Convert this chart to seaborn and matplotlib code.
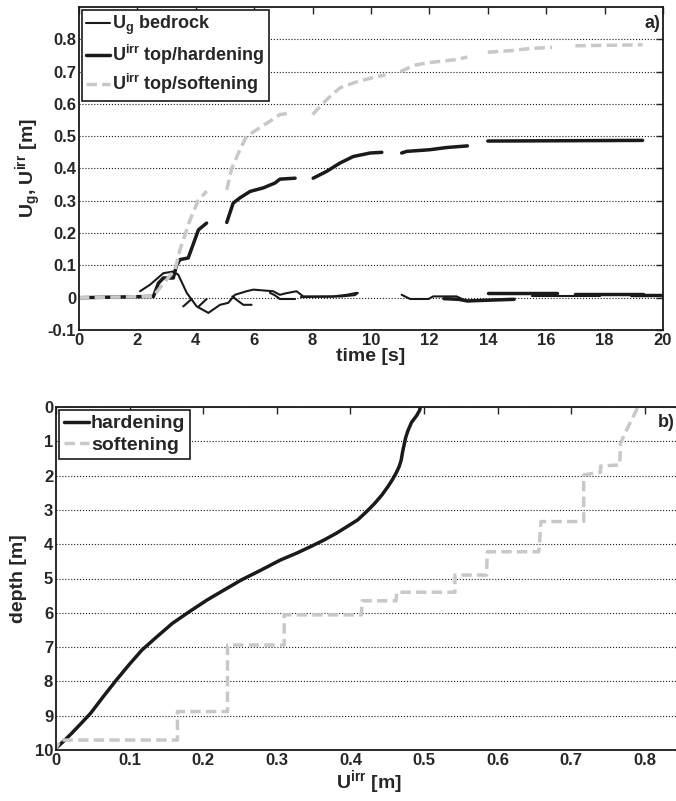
import numpy as np
import pandas as pd
import matplotlib
matplotlib.use("Agg")
import matplotlib.pyplot as plt
import seaborn as sns
from matplotlib.lines import Line2D

# ---- panel a) time histories (NaN = gap in the recorded curve) ----
bed_t = [2.09, 2.43, 2.89, 3.23, 3.40, 3.69, 4.03, 4.43, 4.83, 5.11, 5.34, 5.74, 5.97,
         6.65, 6.88, 7.10, 7.45, 7.68, 8.71, 9.17, 9.51, np.nan,
         11.05, 11.34, 11.97, 12.13, 12.93, 13.28, 14.87, np.nan, 15.5, 17.84]
bed_u = [0.020, 0.040, 0.076, 0.081, 0.071, 0.015, -0.027, -0.047, -0.022, -0.016, 0.009, 0.020, 0.025,
         0.020, 0.009, 0.014, 0.020, 0.004, 0.004, 0.009, 0.015, np.nan,
         0.009, -0.004, -0.004, 0.004, 0.004, -0.011, -0.004, np.nan, 0.004, 0.004]

extra_t = [3.57, 3.86, np.nan, 4.10, 4.37, np.nan, 5.25, 5.46, 5.63, 5.91, np.nan,
           6.54, 6.70, 6.88, 7.40, np.nan, 7.60, 8.50, 9.00, 9.45, 9.55]
extra_u = [-0.027, -0.004, np.nan, -0.027, -0.004, np.nan, 0.004, -0.011, -0.022, -0.022, np.nan,
           0.015, 0.008, -0.004, -0.004, np.nan, 0.002, 0.003, 0.004, 0.008, 0.015]

near0_t = [12.5, 13.0, 13.3, 14.9, np.nan, 14.02, 16.36, np.nan, 17.0, 19.33, np.nan, 18.9, 20.0]
near0_u = [-0.003, -0.005, -0.010, -0.005, np.nan, 0.015, 0.015, np.nan, 0.013, 0.013, np.nan, 0.009, 0.009]

hard_t = [0, 2.55, 2.72, 2.89, 3.23, 3.34, 3.46, 3.74, 3.97, 4.09, 4.37, np.nan,
          5.06, 5.28, 5.51, 5.86, 6.31, 6.71, 6.88, 7.40, np.nan,
          8.02, 8.48, 8.94, 9.39, 9.97, 10.37, np.nan,
          11.05, 11.22, 12.0, 12.6, 13.3, np.nan, 14.0, 19.3]
hard_u = [0, 0.004, 0.045, 0.061, 0.061, 0.100, 0.118, 0.123, 0.180, 0.210, 0.231, np.nan,
          0.233, 0.293, 0.309, 0.329, 0.340, 0.355, 0.367, 0.370, np.nan,
          0.370, 0.391, 0.417, 0.437, 0.448, 0.450, np.nan,
          0.448, 0.453, 0.458, 0.465, 0.470, np.nan, 0.485, 0.487]

soft_t = [0, 2.54, 2.95, 3.29, 3.46, 3.80, 4.08, 4.37, np.nan,
          5.06, 5.23, 5.51, 5.74, 6.00, 6.43, 6.88, 7.28, np.nan,
          8.0, 8.48, 8.94, 9.5, 10.0, 10.5, np.nan,
          11.0, 11.5, 12.0, 12.9, 13.3, np.nan, 14.0, 14.8, 15.5, 16.2, np.nan, 17.0, 19.3]
soft_u = [0, 0.004, 0.050, 0.087, 0.149, 0.240, 0.300, 0.330, np.nan,
          0.334, 0.400, 0.458, 0.500, 0.515, 0.540, 0.567, 0.572, np.nan,
          0.567, 0.613, 0.650, 0.668, 0.680, 0.690, np.nan,
          0.700, 0.720, 0.728, 0.737, 0.745, np.nan, 0.760, 0.765, 0.772, 0.775, np.nan, 0.780, 0.783]

# ---- panel b) irreversible displacement profiles ----
prof_hard_u = [0.495, 0.494, 0.490, 0.483, 0.478, 0.475, 0.473, 0.471, 0.469, 0.466, 0.462,
               0.457, 0.451, 0.443, 0.433, 0.422, 0.410, 0.396, 0.381, 0.364, 0.346,
               0.326, 0.305, 0.279, 0.252, 0.228, 0.205, 0.181, 0.158, 0.137, 0.117,
               0.099, 0.082, 0.064, 0.047, 0.033, 0.021, 0.010, 0.0]
prof_hard_d = [0.00, 0.10, 0.25, 0.45, 0.70, 0.90, 1.10, 1.30, 1.55, 1.75, 1.93,
               2.12, 2.32, 2.56, 2.81, 3.05, 3.29, 3.48, 3.68, 3.88, 4.07,
               4.27, 4.46, 4.75, 5.04, 5.34, 5.63, 5.97, 6.31, 6.70, 7.08,
               7.52, 7.96, 8.45, 8.93, 9.25, 9.52, 9.75, 9.95]
prof_soft_u = [0.790, 0.773, 0.767, 0.766, 0.740, 0.740, 0.717, 0.717, 0.659, 0.656, 0.586, 0.585,
               0.542, 0.542, 0.463, 0.462, 0.416, 0.415, 0.310, 0.310, 0.233, 0.233,
               0.165, 0.165, 0.006, 0.0]
prof_soft_d = [0.03, 0.77, 1.06, 1.69, 1.72, 1.90, 1.98, 3.34, 3.34, 4.22, 4.22, 4.90,
               4.90, 5.40, 5.40, 5.65, 5.65, 6.06, 6.06, 6.94, 6.94, 8.88,
               8.88, 9.71, 9.71, 9.95]


def segments(x, y):
    x = np.asarray(x, float)
    y = np.asarray(y, float)
    gap = np.isnan(x) | np.isnan(y)
    df = pd.DataFrame({'x': x, 'y': y, 'seg': np.cumsum(gap)})
    return df[~gap]


sns.set_theme(style="white")
plt.rcParams['font.family'] = ['Liberation Sans', 'DejaVu Sans']
plt.rcParams['font.weight'] = 'bold'
plt.rcParams['axes.labelweight'] = 'bold'
plt.rcParams['mathtext.fontset'] = 'custom'
plt.rcParams['mathtext.rm'] = 'Liberation Sans:bold'
plt.rcParams['mathtext.it'] = 'Liberation Sans:bold'
plt.rcParams['mathtext.bf'] = 'Liberation Sans:bold'

GRAY = '#c8c8c8'
DASH = (0, (3, 1.5))

fig = plt.figure(figsize=(6.76, 8.01), dpi=100)
ax1 = fig.add_axes([79 / 676, 1 - 330 / 801, 584 / 676, 323 / 801])
ax2 = fig.add_axes([56 / 676, 1 - 750 / 801, 625.6 / 676, 343 / 801])

# panel a
def seg_plot(ax, x, y, **kw):
    sns.lineplot(data=segments(x, y), x='x', y='y', units='seg', estimator=None,
                 sort=False, legend=False, ax=ax, **kw)

seg_plot(ax1, bed_t, bed_u, color='k', lw=1.5)
seg_plot(ax1, extra_t, extra_u, color='k', lw=1.5)
seg_plot(ax1, near0_t, near0_u, color='k', lw=2.5)
seg_plot(ax1, hard_t, hard_u, color='k', lw=2.5)
seg_plot(ax1, soft_t, soft_u, color=GRAY, lw=2.5, linestyle=DASH)

ax1.set_xlim(0, 20)
ax1.set_ylim(-0.1, 0.9)
ax1.set_xticks(np.arange(0, 21, 2))
ax1.set_yticks(np.round(np.arange(-0.1, 0.81, 0.1), 1))
ax1.set_yticklabels(['%g' % v for v in np.round(np.arange(-0.1, 0.81, 0.1), 1)])
ax1.set_xlabel('time [s]', fontsize=14, labelpad=0)
ax1.set_ylabel(r'U$_\mathrm{g}$, U$^\mathrm{irr}$ [m]', fontsize=14, labelpad=3)
ax1.text(0.995, 0.975, 'a)', transform=ax1.transAxes, ha='right', va='top', fontsize=13)

h1 = [Line2D([], [], color='k', lw=1.5),
      Line2D([], [], color='k', lw=2.5),
      Line2D([], [], color=GRAY, lw=2.5, linestyle=DASH)]
leg1 = ax1.legend(h1, [r'U$_\mathrm{g}$ bedrock', r'U$^\mathrm{irr}$ top/hardening',
                       r'U$^\mathrm{irr}$ top/softening'],
                  loc='upper left', fontsize=13, handlelength=1.3, handletextpad=0.1,
                  borderaxespad=0.15, borderpad=0.25, labelspacing=0.3,
                  fancybox=False, framealpha=1, edgecolor='k')
leg1.get_frame().set_linewidth(1.2)

# panel b
seg_plot(ax2, prof_hard_u, prof_hard_d, color='k', lw=2.5)
seg_plot(ax2, prof_soft_u, prof_soft_d, color=GRAY, lw=2.5, linestyle=DASH)

ax2.set_xlim(0, 0.85)
ax2.set_ylim(10, 0)
ax2.set_xticks(np.round(np.arange(0, 0.81, 0.1), 1))
ax2.set_xticklabels(['%g' % v for v in np.round(np.arange(0, 0.81, 0.1), 1)])
ax2.set_yticks(np.arange(0, 11, 1))
ax2.set_xlabel(r'U$^\mathrm{irr}$ [m]', fontsize=14, labelpad=0)
ax2.set_ylabel('depth [m]', fontsize=14, labelpad=6)
ax2.text(0.818, 0.45, 'b)', ha='left', va='center', fontsize=13)

h2 = [Line2D([], [], color='k', lw=2.5),
      Line2D([], [], color=GRAY, lw=2.5, linestyle=DASH)]
leg2 = ax2.legend(h2, ['hardening', 'softening'], loc='upper left', fontsize=14,
                  handlelength=1.3, handletextpad=0.1, borderaxespad=0.15, borderpad=0.25,
                  labelspacing=0.2, fancybox=False, framealpha=1, edgecolor='k')
leg2.get_frame().set_linewidth(1.2)

for ax in (ax1, ax2):
    ax.yaxis.grid(True, linestyle=':', color='k', lw=0.8)
    ax.xaxis.grid(False)
    ax.tick_params(direction='in', top=True, right=True, length=5, width=1,
                   labelsize=12, pad=2)
    for s in ax.spines.values():
        s.set_color('k')
        s.set_linewidth(1.3)
    for lab in ax.get_xticklabels() + ax.get_yticklabels():
        lab.set_fontweight('bold')

fig.savefig('out.png', dpi=100)
